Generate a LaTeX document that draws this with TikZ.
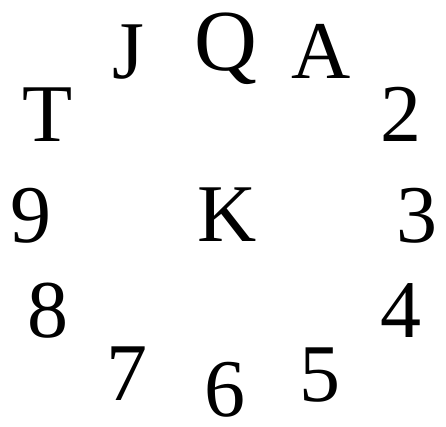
\documentclass[tikz,border=0pt]{standalone}
\usepackage{fontspec}
\setmainfont{Liberation Serif}
\usepackage{tikz}
\usetikzlibrary{positioning}
\tikzset{
    rank/.style={inner sep=0pt, anchor=base, font=\fontsize{82}{82}\selectfont},
    big rank/.style={rank, font=\fontsize{87}{87}\selectfont}
}

\begin{document}
\begin{tikzpicture}[x=1pt, y=-1pt]
    \useasboundingbox (0,0) rectangle (446,427);
    \node[big rank] (Q) at (226,71) {Q};
    \node[rank] (J) at (128,79) {J};
    \node[rank] (A) at (321,79) {A};
    \node[rank] (T) at (48,142) {T};
    \node[rank] (2) at (401,142) {2};
    \node[rank] (9) at (31,242) {9};
    \node[rank] (K) at (227,241) {K};
    \node[rank] (3) at (417,242) {3};
    \node[rank] (8) at (48,337) {8};
    \node[rank] (4) at (401,337) {4};
    \node[rank] (7) at (127,400) {7};
    \node[rank] (6) at (225,416) {6};
    \node[rank] (5) at (320,401) {5};
\end{tikzpicture}
\end{document}
